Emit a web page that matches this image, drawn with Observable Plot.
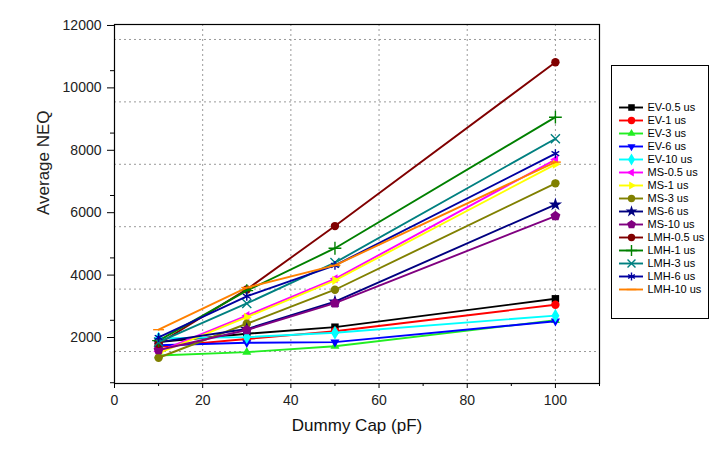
<!DOCTYPE html>
<html>
<head>
<meta charset="utf-8">
<script src="https://cdn.jsdelivr.net/npm/d3@7"></script>
<script src="https://cdn.jsdelivr.net/npm/@observablehq/plot@0.6"></script>
<style>
  html, body { margin: 0; padding: 0; background: #fff; }
  #wrap { position: relative; width: 724px; height: 453px; font-family: "Liberation Sans", Arial, sans-serif; }
  #main { position: absolute; left: 0; top: 0; }
  #legend { position: absolute; left: 611px; top: 65px; width: 96px; height: 252px; border: 1px solid #000; background: #fff; }
</style>
</head>
<body>
<div id="wrap"><div id="main"></div><div id="legend"></div></div>
<script>
// ---- data ----
const capValues = [10, 30, 50, 100];
const seriesNames = ["EV-0.5 us","EV-1 us","EV-3 us","EV-6 us","EV-10 us",
                     "MS-0.5 us","MS-1 us","MS-3 us","MS-6 us","MS-10 us",
                     "LMH-0.5 us","LMH-1 us","LMH-3 us","LMH-6 us","LMH-10 us"];
const ev05  = [2300, 2570, 2780, 3690];
const ev1   = [2150, 2400, 2650, 3500];
const ev3   = [1870, 1980, 2170, 3000];
const ev6   = [2200, 2280, 2300, 2970];
const ev10  = [2420, 2460, 2600, 3150];
const ms05  = [2000, 3150, 4330, 8150];
const ms1   = [1950, 3100, 4280, 8000];
const ms3   = [1800, 2890, 3980, 7390];
const ms6   = [2300, 2720, 3600, 6710];
const ms10  = [2050, 2690, 3550, 6340];
const lmh05 = [2250, 3990, 6020, 11270];
const lmh1  = [2350, 3950, 5310, 9510];
const lmh3  = [2300, 3540, 4850, 8820];
const lmh6  = [2450, 3770, 4760, 8340];
const lmh10 = [2700, 4050, 4760, 8070];
const seriesValues = [ev05, ev1, ev3, ev6, ev10, ms05, ms1, ms3, ms6, ms10, lmh05, lmh1, lmh3, lmh6, lmh10];
const seriesColors = ["#000000","#ff0000","#22ee22","#0000ff","#00ffff",
                      "#ff00ff","#ffff00","#808000","#000080","#800080",
                      "#800000","#008000","#008080","#0000a0","#ff8000"];
const seriesSymbols = ["square","circle","triUp","triDown","diamond",
                       "triLeft","triRight","circle","star","pentagon",
                       "circle","plus","times","asterisk","dash"];
const yMajorTicks = [2000, 4000, 6000, 8000, 10000, 12000];
const yMinorTicks = [1000, 3000, 5000, 7000, 9000, 11000];
const xMajorTicks = [0, 20, 40, 60, 80, 100];
const xMinorTicks = [10, 30, 50, 70, 90, 110];

// ---- symbols ----
function poly(n, rot) {
  return { draw(ctx, size) {
    const r = Math.sqrt(size / Math.PI) * 1.25;
    for (let i = 0; i < n; i++) {
      const a = rot + 2 * Math.PI * i / n;
      const px = r * Math.sin(a), py = -r * Math.cos(a);
      if (i === 0) ctx.moveTo(px, py); else ctx.lineTo(px, py);
    }
    ctx.closePath();
  }};
}
const dashSym = { draw(ctx, size) { const r = Math.sqrt(size / Math.PI) * 1.3; ctx.moveTo(-r, 0); ctx.lineTo(r, 0); } };
const symMap = {
  square: "square", circle: "circle", diamond: "diamond", star: "star",
  plus: "plus", times: "times", asterisk: "asterisk",
  triUp: poly(3, 0), triDown: poly(3, Math.PI), triLeft: poly(3, -Math.PI / 2),
  triRight: poly(3, Math.PI / 2), pentagon: poly(5, 0), dash: dashSym
};
const strokeOnly = new Set(["plus", "times", "asterisk", "dash"]);

function dotOpts(i, r) {
  const s = seriesSymbols[i];
  const o = { x: "x", y: "y", r, symbol: symMap[s] };
  if (strokeOnly.has(s)) { o.fill = "none"; o.stroke = seriesColors[i]; o.strokeWidth = 1.4; }
  else { o.fill = seriesColors[i]; o.stroke = "none"; }
  return o;
}

// ---- main chart ----
const marks = [
  Plot.gridY(yMajorTicks, { stroke: "#9a9a9a", strokeOpacity: 1, strokeDasharray: "2,3" }),
  Plot.gridX(xMajorTicks.filter(d => d > 0), { stroke: "#9a9a9a", strokeOpacity: 1, strokeDasharray: "2,3" })
];
seriesNames.forEach((name, i) => {
  const data = capValues.map((x, j) => ({ x, y: seriesValues[i][j] }));
  marks.push(Plot.line(data, { x: "x", y: "y", stroke: seriesColors[i], strokeWidth: 1.9 }));
  marks.push(Plot.dot(data, dotOpts(i, 4.2)));
});
marks.push(
  Plot.frame({ stroke: "#000", strokeWidth: 1.2 }),
  Plot.axisY(yMajorTicks, { tickSize: 7, tickPadding: 6, dy: -14, fontSize: 14, fill: "#222", label: null, tickFormat: d => String(d) }),
  Plot.axisY(yMinorTicks, { tickSize: 4, tickFormat: () => "", label: null }),
  Plot.axisX(xMajorTicks, { tickSize: 5, tickPadding: 7, fontSize: 14, fill: "#222", label: null }),
  Plot.axisX(xMinorTicks, { tickSize: 3, tickFormat: () => "", label: null }),
  Plot.text(["Average NEQ"], { frameAnchor: "left", rotate: -90, dx: -71, dy: 11, fontSize: 17, fill: "#222" }),
  Plot.text(["Dummy Cap (pF)"], { frameAnchor: "bottom", dy: 47, fontSize: 17, fill: "#111" })
);

const chart = Plot.plot({
  width: 724, height: 453,
  marginLeft: 114, marginRight: 125, marginTop: 24, marginBottom: 70,
  style: { fontFamily: "'Liberation Sans', Arial, sans-serif", background: "#fff" },
  x: { domain: [0, 110] },
  y: { domain: [975, 12480] },
  marks
});
document.getElementById("main").appendChild(chart);

// ---- legend ----
const legendMarks = [];
seriesNames.forEach((name, i) => {
  legendMarks.push(Plot.ruleY([name], { y: d => d, stroke: seriesColors[i], strokeWidth: 1.9 }));
  const o = dotOpts(i, 3.7);
  delete o.x; o.y = d => d; o.frameAnchor = "middle";
  legendMarks.push(Plot.dot([name], o));
});
legendMarks.push(Plot.text(seriesNames, { y: d => d, text: d => d, frameAnchor: "right", dx: 4, textAnchor: "start", fontSize: 11, fill: "#000" }));
const legend = Plot.plot({
  width: 96, height: 252,
  marginLeft: 7, marginRight: 65, marginTop: 36, marginBottom: 25,
  style: { fontFamily: "'Liberation Sans', Arial, sans-serif", overflow: "visible" },
  y: { type: "point", domain: seriesNames, padding: 0, axis: null },
  marks: legendMarks
});
document.getElementById("legend").appendChild(legend);
</script>
</body>
</html>
